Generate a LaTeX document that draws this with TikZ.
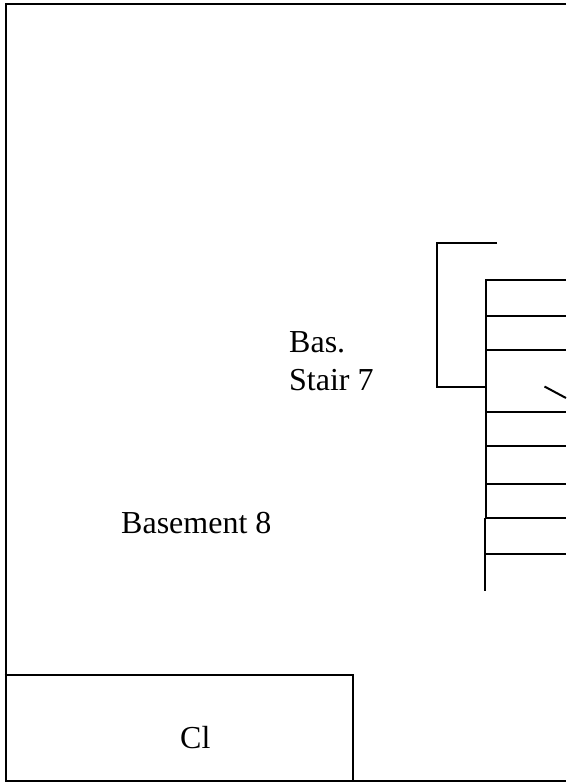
\documentclass[tikz,border=0pt]{standalone}
\usepackage{fontspec}
\setmainfont{Liberation Serif}
\tikzset{wall/.style={line width=2pt,black,line cap=butt},
label/.style={inner sep=0pt,anchor=base west,font=\fontsize{32}{36}\selectfont,text=black}}
\begin{document}
\begin{tikzpicture}[x=1pt,y=-1pt]
\useasboundingbox (0,0) rectangle (566,782);
\fill[white] (0,0) rectangle (566,782);
\draw[wall] (566,4) -- (6,4) -- (6,781) -- (566,781);
\draw[wall] (4.5,675) -- (353,675) -- (353,781);
\draw[wall] (497,243) -- (437,243) -- (437,387) -- (486,387);
\draw[wall] (486,517.5) -- (486,280) -- (566,280);
\draw[wall] (485,517.5) -- (485,591);
\foreach \y in {316,350,412,446,484,518,554} \draw[wall] (486,\y) -- (566,\y);
\draw[wall] (544.5,386.5) -- (566,398);
\node[label] (bas) at (289,352.5) {Bas.};
\node[label] (stair) at (289,390) {Stair 7};
\node[label] (basement) at (121,533) {Basement 8};
\node[label] (cl) at (180,748.5) {Cl};
\end{tikzpicture}
\end{document}
